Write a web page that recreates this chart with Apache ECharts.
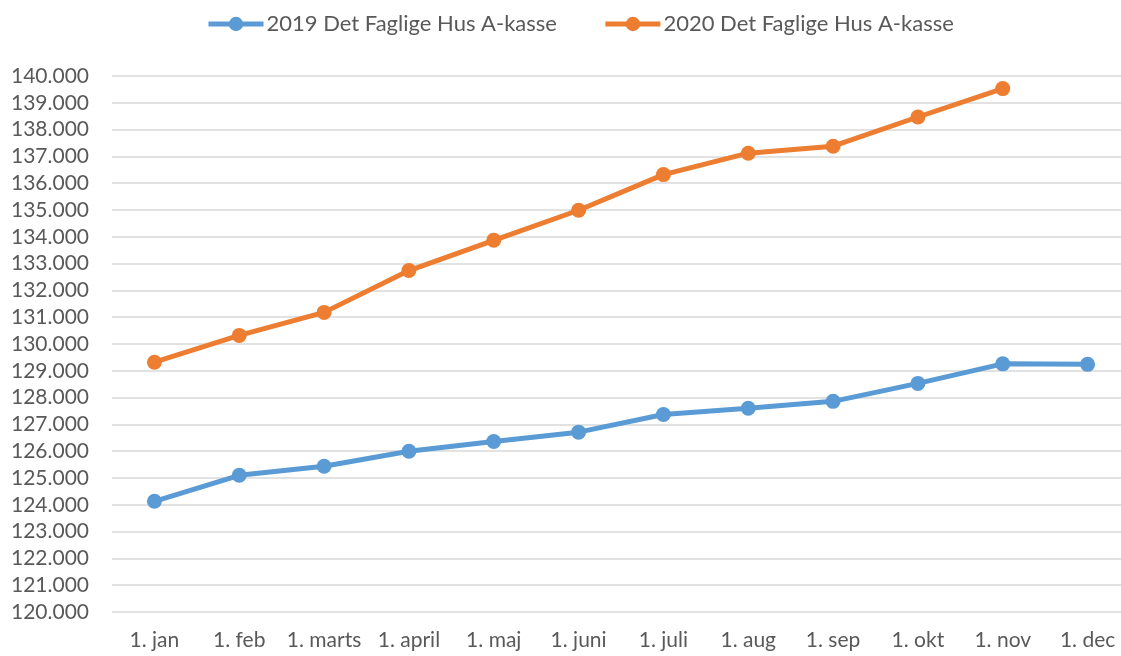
<!DOCTYPE html>
<html lang="da">
<head>
    <meta charset="UTF-8">
    <title>Det Faglige Hus A-kasse</title>
    <script src="https://cdn.jsdelivr.net/npm/echarts@6.0.0/dist/echarts.min.js"></script>
    <style>
        html, body { margin: 0; padding: 0; background: #fff; }
    </style>
</head>
<body>
    <div id="main" style="width: 1121px;height:656px;"></div>
    <script type="text/javascript">
        // data
        const months = ['1. jan', '1. feb', '1. marts', '1. april', '1. maj', '1. juni',
            '1. juli', '1. aug', '1. sep', '1. okt', '1. nov', '1. dec'];
        const members2019 = [124130, 125100, 125440, 126000, 126360, 126710,
            127370, 127600, 127860, 128530, 129260, 129240];
        const members2020 = [129320, 130320, 131180, 132740, 133870, 134990,
            136320, 137120, 137380, 138470, 139530, null];

        const textColor = '#595959';
        const fontFamily = 'Lato, "Open Sans", sans-serif';

        let myChart = echarts.init(document.getElementById('main'));

        function lineSeries(name, data, color) {
            return {
                name: name,
                type: 'line',
                data: data,
                symbol: 'circle',
                symbolSize: 15,
                lineStyle: { width: 5, color: color },
                itemStyle: { color: color },
                emphasis: { disabled: true },
                connectNulls: false
            };
        }

        let options = {
            animation: false,
            textStyle: { fontFamily: fontFamily },
            legend: {
                top: 8,
                left: 201,
                itemWidth: 55,
                itemHeight: 18,
                itemGap: 46,
                lineStyle: { width: 5 },
                textStyle: { fontSize: 22, color: textColor, fontFamily: fontFamily, padding: [0, 0, 0, -2] }
            },
            grid: {
                left: 112,
                right: -9,
                top: 76,
                bottom: 44,
                containLabel: false,
                outerBoundsMode: 'none'
            },
            xAxis: {
                type: 'category',
                data: months,
                boundaryGap: true,
                axisLine: { show: false },
                axisTick: { show: false },
                axisLabel: { interval: 0, fontSize: 21, color: textColor, margin: 18, fontFamily: fontFamily }
            },
            yAxis: {
                type: 'value',
                min: 120000,
                max: 140000,
                interval: 1000,
                axisLine: { show: false },
                axisTick: { show: false },
                axisLabel: {
                    fontSize: 21,
                    color: textColor,
                    margin: 23,
                    fontFamily: fontFamily,
                    formatter: v => (v / 1000).toFixed(3)
                },
                splitLine: { lineStyle: { color: '#d9d9d9', width: 1.5 } }
            },
            series: [
                lineSeries('2019 Det Faglige Hus A-kasse', members2019, '#5B9BD5'),
                lineSeries('2020 Det Faglige Hus A-kasse', members2020, '#ED7D31')
            ]
        };

        myChart.setOption(options);
    </script>
</body>
</html>
